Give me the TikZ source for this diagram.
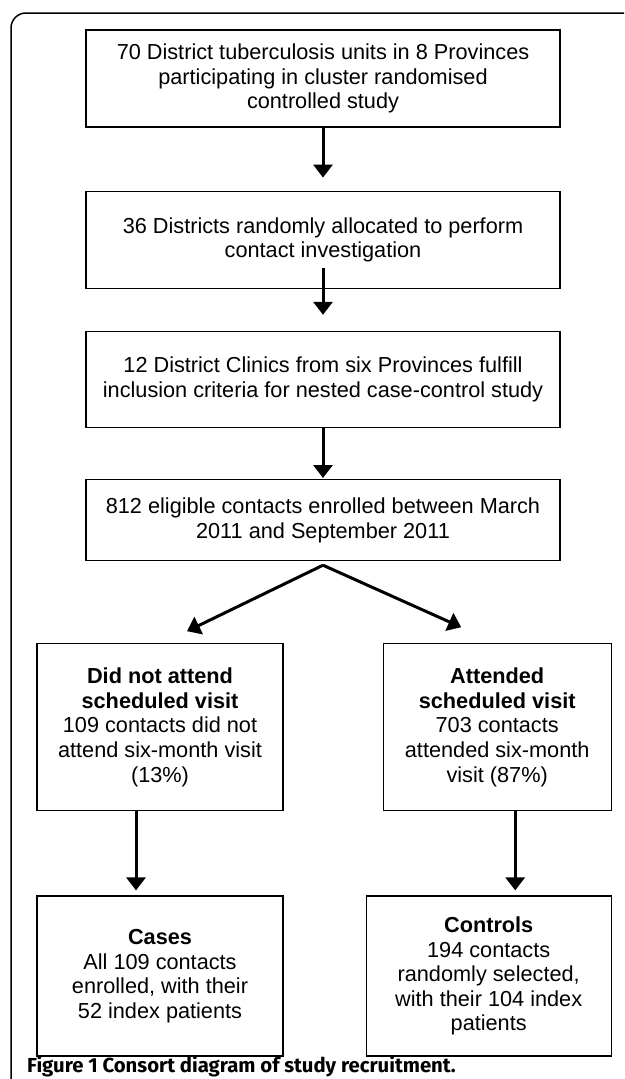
\documentclass[tikz,border=0pt]{standalone}
\usepackage{fontspec}
\setmainfont{Liberation Sans}
\newfontfamily\capfont{Fira Sans}
\usetikzlibrary{positioning,arrows.meta,calc}

\tikzset{
  flowbox/.style={draw, line width=1.2pt, align=center, inner sep=0pt,
    font=\fontsize{21.7pt}{24.6pt}\selectfont},
  mainbox/.style={flowbox, minimum width=474pt, minimum height=97pt},
  armbox/.style={flowbox, minimum height=167pt},
  endbox/.style={flowbox, minimum width=246pt, minimum height=160pt},
  flowarrow/.style={-{Triangle[width=19pt,length=13pt]}, line width=3pt},
}

\begin{document}
\begin{tikzpicture}[x=1pt, y=-1pt]
  \useasboundingbox (0,0) rectangle (624,1079);
  % panel frame
  \draw[line width=1.5pt] (11,1079) -- (11,28)
    arc[start angle=180, end angle=90, radius=15pt] -- (624,13);

  \node[mainbox] (districts) at (323,78.5)
    {70 District tuberculosis units in 8 Provinces\\participating in cluster randomised\\controlled study};
  \node[mainbox, below=63pt of districts] (allocated)
    {36 Districts randomly allocated to perform\\contact investigation};
  \node[mainbox, minimum height=96pt, below=42pt of allocated] (clinics)
    {12 District Clinics from six Provinces fulfill\\inclusion criteria for nested case-control study};
  \node[mainbox, minimum height=81pt, below=51pt of clinics] (enrolled)
    {812 eligible contacts enrolled between March\\2011 and September 2011};

  \node[armbox, minimum width=246pt, below=82pt of enrolled.south west,
        anchor=north west, xshift=-49pt] (absent)
    {\textbf{Did not attend}\\\textbf{scheduled visit}\\109 contacts did not\\attend six-month visit\\(13\%)};
  \node[armbox, minimum width=228pt, right=99pt of absent] (attended)
    {\textbf{Attended}\\\textbf{scheduled visit}\\703 contacts\\attended six-month\\visit (87\%)};

  \node[endbox, below=84pt of absent] (cases)
    {\textbf{Cases}\\All 109 contacts\\enrolled, with their\\52 index patients};
  \node[endbox, minimum width=245pt, right=82pt of cases] (controls)
    {\textbf{Controls}\\194 contacts\\randomly selected,\\with their 104 index\\patients};

  \coordinate[below=4pt of enrolled] (split);
  \coordinate (leftdrop) at ([xshift=-24pt]absent.south);
  \coordinate (rightdrop) at ([xshift=18pt]attended.south);

  % connectors
  \draw[flowarrow] (districts.south) -- ([yshift=13pt]allocated.north);
  \draw[flowarrow] ([yshift=21pt]allocated.south) -- ([yshift=16pt]clinics.north);
  \draw[flowarrow] (clinics.south) -- ([yshift=1pt]enrolled.north);
  \draw[flowarrow] (split) -- ([xshift=27pt,yshift=12pt]absent.north);
  \draw[flowarrow] (split) -- ([xshift=-36pt,yshift=16pt]attended.north);
  \draw[flowarrow] (leftdrop) -- ($(leftdrop |- cases.north)+(0,-5)$);
  \draw[flowarrow] (rightdrop) -- ($(rightdrop |- controls.north)+(0,-5)$);

  \node[anchor=base west, inner sep=0pt,
        font=\capfont\bfseries\fontsize{20.3pt}{23pt}\selectfont] (caption) at (27,1072)
    {Figure 1 Consort diagram of study recruitment.};
\end{tikzpicture}
\end{document}
